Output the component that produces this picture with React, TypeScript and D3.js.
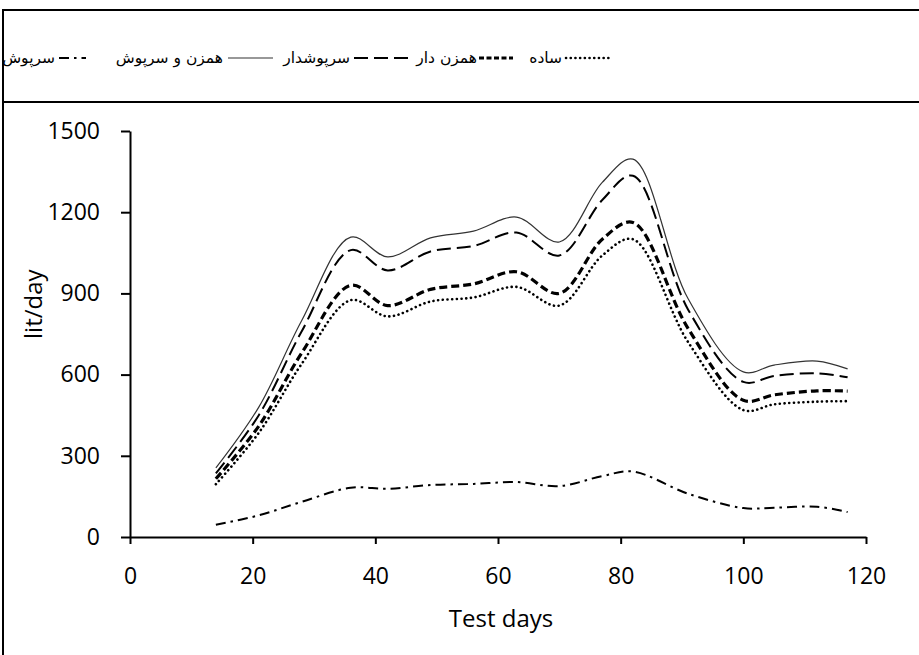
import { useEffect, useRef } from 'react';
import * as d3 from 'd3';

const [width, height] = [919, 655];
const margin = { top: 131, right: 53, bottom: 118, left: 130 };

// test days at which readings were taken
const days = [14, 21, 28, 36, 42, 49, 56, 63, 70, 77, 82, 91, 100, 105, 112, 117];

// series values, lit/day
const mixerAndLid = [255, 480, 800, 1108, 1035, 1105, 1130, 1182, 1090, 1310, 1396, 880, 610, 635, 650, 621];
const withLid = [235, 450, 760, 1060, 985, 1055, 1075, 1125, 1040, 1245, 1335, 840, 573, 595, 605, 590];
const withMixer = [215, 410, 680, 930, 855, 915, 935, 980, 900, 1100, 1162, 770, 505, 525, 540, 539];
const plain = [195, 385, 640, 875, 815, 870, 885, 924, 855, 1040, 1100, 720, 469, 490, 500, 502];
const lidOnly = [45, 80, 130, 182, 178, 192, 196, 203, 188, 225, 242, 160, 107, 108, 112, 92];

const xTicks = [0, 20, 40, 60, 80, 100, 120];
const yTicks = [0, 300, 600, 900, 1200, 1500];

const series = [
    { name: 'همزن و سرپوش', values: mixerAndLid, width: 1.2, dash: null, cap: 'butt', color: '#333' },
    { name: 'سرپوشدار', values: withLid, width: 2, dash: '14 6', cap: 'butt', color: '#000' },
    { name: 'همزن دار', values: withMixer, width: 3.2, dash: '8 4', cap: 'butt', color: '#000' },
    { name: 'ساده', values: plain, width: 2.6, dash: '0.1 4.6', cap: 'round', color: '#000' },
    { name: 'سرپوش', values: lidOnly, width: 2, dash: '10 5 2.5 5', cap: 'butt', color: '#000' },
];

// legend order as it reads left to right in the picture
const legendOrder = ['سرپوش', 'همزن و سرپوش', 'سرپوشدار', 'همزن دار', 'ساده'];
const legendSpots = [[55, 59, 86], [223, 228, 273], [350, 354, 409], [477, 479, 513], [562, 566, 610]];

const xScale = d3.scaleLinear().domain([0, 120]).range([margin.left, width - margin.right]);
const yScale = d3.scaleLinear().domain([0, 1500]).range([height - margin.bottom, margin.top]);

function App() {
    const node = useRef(null);
    useEffect(() => {
        if (!node.current) return;
        const board = d3.select(node.current);
        board.selectAll('*').remove();
        const font = '"Open Sans", "DejaVu Sans", sans-serif';

        /** frame */
        board.append('path')
            .attr('d', 'M3,655 L3,10 L919,10 M3,102 L919,102')
            .attr('fill', 'none').attr('stroke', '#000').attr('stroke-width', 2);

        /** legend */
        legendOrder.forEach((name, i) => {
            const s = series.find(d => d.name === name)!;
            const [tx, x1, x2] = legendSpots[i];
            board.append('text')
                .attr('x', tx).attr('y', 63)
                .attr('text-anchor', 'end')
                .attr('font-family', '"DejaVu Sans", sans-serif')
                .attr('font-size', 15.5)
                .text(name);
            board.append('line')
                .attr('x1', x1).attr('x2', x2).attr('y1', 58).attr('y2', 58)
                .attr('stroke', s.color).attr('stroke-width', s.width)
                .attr('stroke-dasharray', s.dash === null ? null : (name === 'همزن دار' ? '5 2.5' : s.dash))
                .attr('stroke-linecap', s.cap);
        });

        /** axes */
        const xAxis = board.append('g')
            .attr('transform', `translate(0,${yScale(0)})`)
            .call(d3.axisBottom(xScale).tickValues(xTicks).tickFormat(d3.format('d'))
                .tickSize(7).tickSizeOuter(0).tickPadding(24));
        const yAxis = board.append('g')
            .attr('transform', `translate(${xScale(0)},0)`)
            .call(d3.axisLeft(yScale).tickValues(yTicks).tickFormat(d3.format('d'))
                .tickSize(9).tickSizeOuter(0).tickPadding(21));
        [xAxis, yAxis].forEach(ax => {
            ax.select('.domain').attr('stroke', '#000').attr('stroke-width', 2);
            ax.selectAll('.tick line').attr('stroke', '#000').attr('stroke-width', 2);
            ax.selectAll('.tick text').attr('font-family', font).attr('font-size', 23).attr('fill', '#000');
        });

        board.append('text')
            .attr('x', (xScale(0) + xScale(120)) / 2 + 3).attr('y', 627)
            .attr('text-anchor', 'middle')
            .attr('font-family', font).attr('font-size', 24)
            .text('Test days');
        board.append('text')
            .attr('transform', `translate(42,${yScale(860)}) rotate(-90)`)
            .attr('text-anchor', 'middle')
            .attr('font-family', font).attr('font-size', 24)
            .text('lit/day');

        /** lines */
        const line = d3.line<number>()
            .x((d, i) => xScale(days[i]))
            .y(d => yScale(d))
            .curve(d3.curveCatmullRom.alpha(0.5));
        series.forEach(s => {
            board.append('path')
                .attr('d', line(s.values))
                .attr('fill', 'none')
                .attr('stroke', s.color)
                .attr('stroke-width', s.width)
                .attr('stroke-dasharray', s.dash)
                .attr('stroke-linecap', s.cap);
        });
    }, [node]);

    return (
        <svg ref={node} width={width} height={height}
            style={{ position: 'absolute', left: 0, top: 0, background: '#fff' }}></svg>
    );
}

export default App;
